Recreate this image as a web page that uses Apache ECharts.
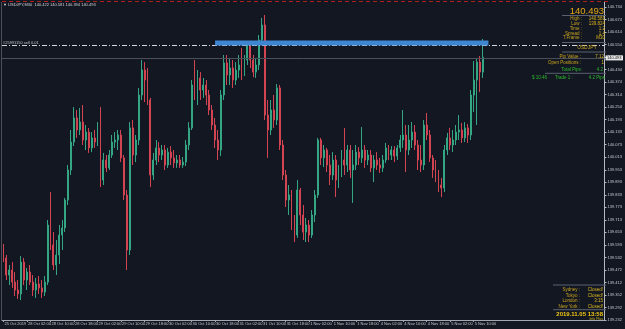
<!DOCTYPE html>
<html>
<head>
<meta charset="utf-8">
<script src="https://cdn.jsdelivr.net/npm/echarts@6/dist/echarts.min.js"></script>
<style>
  html, body { margin: 0; padding: 0; background: #131722; }
  #chart { width: 625px; height: 329px; }
</style>
</head>
<body>
<div id="chart"></div>
<script>
// USDJPY hourly bars, 25 Oct 18:00 -> 5 Nov 13:00 (one row = 8 bars)
var opens = [
  139.578, 139.530, 139.448, 139.472, 139.414, 139.376, 139.357, 139.510,
  139.424, 139.462, 139.414, 139.376, 139.405, 139.386, 139.366, 139.414,
  139.688, 139.592, 139.496, 139.544, 139.640, 139.674, 139.808, 139.952,
  140.086, 140.202, 140.144, 140.182, 140.096, 140.134, 140.058, 140.106,
  140.086, 140.154, 139.904, 140.000, 139.962, 140.024, 140.086, 140.096,
  140.120, 140.010, 139.832, 139.568, 140.154, 140.024, 140.096, 140.312,
  140.432, 140.384, 140.288, 139.928, 140.000, 140.058, 140.024, 140.048,
  139.976, 140.038, 140.010, 139.986, 140.000, 139.976, 139.990, 140.072,
  140.154, 140.360, 140.312, 140.394, 140.336, 140.360, 140.312, 140.240,
  140.168, 140.096, 140.048, 140.312, 140.466, 140.408, 140.442, 140.384,
  140.432, 140.456, 140.422, 140.480, 140.552, 140.480, 140.422, 140.456,
  140.576, 140.648, 140.216, 140.144, 140.240, 140.192, 140.346, 140.072,
  139.928, 139.808, 139.832, 139.688, 139.640, 139.856, 139.736, 139.654,
  139.688, 139.640, 139.736, 139.832, 140.096, 140.010, 140.048, 139.976,
  139.928, 140.000, 139.904, 139.952, 140.000, 139.976, 140.048, 139.952,
  139.976, 140.038, 140.010, 140.048, 140.000, 140.024, 139.962, 140.000,
  139.976, 139.962, 140.000, 140.058, 140.024, 140.048, 140.019, 140.058,
  140.096, 140.120, 140.048, 140.096, 140.134, 140.072, 140.000, 139.976,
  140.168, 140.120, 140.010, 139.952, 139.928, 139.880, 139.866, 140.048,
  140.106, 140.072, 140.096, 140.134, 140.144, 140.106, 140.154, 140.120,
  140.312, 140.384, 140.470, 140.422
];
var highs = [
  139.597, 139.544, 139.496, 139.510, 139.462, 139.424, 139.539, 139.530,
  139.482, 139.496, 139.448, 139.434, 139.443, 139.424, 139.443, 139.712,
  139.846, 139.654, 139.616, 139.688, 139.712, 139.818, 139.976, 140.144,
  140.254, 140.240, 140.250, 140.264, 140.168, 140.154, 140.134, 140.144,
  140.182, 140.254, 140.034, 140.024, 140.048, 140.120, 140.134, 140.144,
  140.144, 140.024, 139.856, 140.182, 140.192, 140.120, 140.346, 140.480,
  140.470, 140.442, 140.298, 140.034, 140.096, 140.086, 140.072, 140.072,
  140.058, 140.067, 140.048, 140.024, 140.024, 140.014, 140.096, 140.182,
  140.384, 140.480, 140.432, 140.422, 140.394, 140.384, 140.336, 140.264,
  140.202, 140.144, 140.336, 140.504, 140.504, 140.490, 140.480, 140.470,
  140.504, 140.538, 140.504, 140.566, 140.566, 140.504, 140.490, 140.600,
  140.682, 140.696, 140.288, 140.288, 140.312, 140.365, 140.360, 140.096,
  139.952, 139.880, 139.856, 139.736, 139.904, 139.866, 139.784, 139.722,
  139.712, 139.760, 139.856, 140.106, 140.106, 140.072, 140.058, 140.024,
  140.038, 140.024, 139.976, 140.048, 140.154, 140.072, 140.072, 140.048,
  140.072, 140.062, 140.158, 140.072, 140.048, 140.048, 140.024, 140.038,
  140.010, 140.024, 140.082, 140.072, 140.067, 140.067, 140.072, 140.120,
  140.240, 140.168, 140.168, 140.182, 140.168, 140.096, 140.072, 140.192,
  140.226, 140.144, 140.024, 140.000, 139.952, 139.914, 140.072, 140.130,
  140.154, 140.144, 140.168, 140.216, 140.178, 140.182, 140.173, 140.336,
  140.475, 140.490, 140.499, 140.581
];
var lows = [
  139.510, 139.424, 139.400, 139.386, 139.347, 139.333, 139.328, 139.400,
  139.376, 139.400, 139.347, 139.338, 139.357, 139.338, 139.347, 139.400,
  139.568, 139.472, 139.448, 139.501, 139.568, 139.654, 139.784, 139.928,
  140.067, 140.106, 140.120, 140.072, 140.048, 140.034, 140.038, 140.058,
  140.067, 139.870, 139.880, 139.942, 139.952, 140.010, 140.058, 140.048,
  139.990, 139.808, 139.472, 139.544, 139.976, 139.990, 140.072, 140.288,
  140.278, 140.264, 139.870, 139.904, 139.976, 139.990, 140.000, 139.952,
  139.962, 139.976, 139.962, 139.962, 139.962, 139.962, 139.971, 140.048,
  140.144, 140.288, 140.264, 140.288, 140.298, 140.264, 140.216, 140.144,
  140.058, 140.000, 140.019, 140.288, 140.360, 140.360, 140.346, 140.360,
  140.394, 140.384, 140.403, 140.456, 140.442, 140.398, 140.394, 140.432,
  140.552, 140.192, 140.010, 140.120, 140.154, 140.168, 140.048, 139.904,
  139.774, 139.736, 139.664, 139.606, 139.626, 139.688, 139.616, 139.606,
  139.606, 139.626, 139.702, 139.818, 139.976, 139.966, 139.942, 139.880,
  139.904, 139.822, 139.866, 139.918, 139.928, 139.942, 139.914, 139.794,
  139.952, 139.976, 139.986, 139.962, 139.976, 139.942, 139.894, 139.952,
  139.938, 139.942, 139.986, 140.000, 140.000, 139.990, 140.000, 140.038,
  140.058, 139.942, 140.024, 140.058, 140.048, 139.952, 139.942, 139.952,
  140.096, 139.990, 139.914, 139.894, 139.846, 139.822, 139.846, 140.024,
  140.048, 140.038, 140.072, 140.096, 140.082, 140.086, 140.082, 140.096,
  140.230, 140.168, 140.326, 140.394
];
var closes = [
  139.530, 139.448, 139.472, 139.414, 139.376, 139.357, 139.510, 139.424,
  139.462, 139.414, 139.376, 139.405, 139.386, 139.366, 139.414, 139.688,
  139.592, 139.496, 139.544, 139.640, 139.674, 139.808, 139.952, 140.086,
  140.202, 140.144, 140.182, 140.096, 140.134, 140.058, 140.106, 140.086,
  140.154, 139.904, 140.000, 139.962, 140.024, 140.086, 140.096, 140.120,
  140.010, 139.832, 139.568, 140.154, 140.024, 140.096, 140.312, 140.432,
  140.384, 140.288, 139.928, 140.000, 140.058, 140.024, 140.048, 139.976,
  140.038, 140.010, 139.986, 140.000, 139.976, 139.990, 140.072, 140.154,
  140.360, 140.312, 140.394, 140.336, 140.360, 140.312, 140.240, 140.168,
  140.096, 140.048, 140.312, 140.466, 140.408, 140.442, 140.384, 140.432,
  140.456, 140.422, 140.480, 140.552, 140.480, 140.422, 140.456, 140.576,
  140.648, 140.216, 140.144, 140.240, 140.192, 140.346, 140.072, 139.928,
  139.808, 139.832, 139.688, 139.640, 139.856, 139.736, 139.654, 139.688,
  139.640, 139.736, 139.832, 140.096, 140.010, 140.048, 139.976, 139.928,
  140.000, 139.904, 139.952, 140.000, 139.976, 140.048, 139.952, 139.976,
  140.038, 140.010, 140.048, 140.000, 140.024, 139.962, 140.000, 139.976,
  139.962, 140.000, 140.058, 140.024, 140.048, 140.019, 140.058, 140.096,
  140.120, 140.048, 140.096, 140.134, 140.072, 140.000, 139.976, 140.168,
  140.120, 140.010, 139.952, 139.928, 139.880, 139.866, 140.048, 140.106,
  140.072, 140.096, 140.134, 140.144, 140.106, 140.154, 140.120, 140.312,
  140.384, 140.470, 140.422, 140.493
];

var bidPrice = 140.493;
var tradeOpenPrice = 140.549;
var tradeLabel = '#25991150 sell 0.01';
var zoneTop = 140.574;
var zoneBottom = 140.550;
var zoneStartBar = 72;
var zoneEndBar = 165;

var infoRows = [['High :', '140.581'], ['Low :', '139.824'], ['Time :', '1:2'], ['Spread :', '1.4'], ['T.Frame :', 'M30']];
var accountRows = [['Pip Value :', '7.12'], ['Open Positions :', '1']];
var totalPips = '4.2';
var tradeRow = ['$ 10.46', 'Trade 1 :', '4.2 Pips'];
var sessionRows = [['Sydney :', 'Closed!'], ['Tokyo :', 'Closed!'], ['London :', '3:15'], ['New York :', 'Closed!']];
var serverTime = '2019.11.05 13:58';

// price axis step as the terminal lays it out (min is a whole number of steps)
var yStep = 0.0600915;
var yMin = 2317 * yStep;
var yMax = 140.7584;

// hourly time slots, weekends skipped, with empty room on the right
var months = ['Jan', 'Feb', 'Mar', 'Apr', 'May', 'Jun', 'Jul', 'Aug', 'Sep', 'Oct', 'Nov', 'Dec'];
var categories = [];
var t = Date.UTC(2019, 9, 25, 18);
while (categories.length < 205) {
  var d = new Date(t);
  var wd = d.getUTCDay();
  if (wd !== 0 && wd !== 6) {
    var hh = d.getUTCHours();
    categories.push(d.getUTCDate() + ' ' + months[d.getUTCMonth()] + ' ' + (hh < 10 ? '0' : '') + hh + ':00');
  }
  t += 3600000;
}
var lastBar = closes.length - 1;
function showTick(i) { return i % 8 === 0 && i <= lastBar; }

var candles = opens.map(function (o, i) { return [o, closes[i], lows[i], highs[i]]; });

var FONT = '"Liberation Sans", Arial, sans-serif';
var GOLD = '#caa41c';
var GOLD2 = '#dbb51e';
var GREEN = '#2cba2c';
var SEP = '#596070';

function txt(x, y, text, color, size, align, bold) {
  return {
    type: 'text', x: x, y: y, silent: true, z: 100,
    style: { text: text, fill: color, font: (bold ? 'bold ' : '') + size + 'px ' + FONT, align: align || 'left', verticalAlign: 'middle' }
  };
}
function rule(x1, x2, y, color, dash) {
  return {
    type: 'line', silent: true, z: 100,
    shape: { x1: x1, y1: y, x2: x2, y2: y },
    style: { stroke: color, lineWidth: 1, lineDash: dash || null }
  };
}

var graphics = [];
graphics.push(rule(2, 608, 1.5, '#b21e1e', [4, 3]));
graphics.push({ type: 'line', silent: true, shape: { x1: 1.5, y1: 2, x2: 1.5, y2: 320 }, style: { stroke: '#4a4f5a', lineWidth: 1 } });
graphics.push(txt(3, 5, '\u25BC ' + 'USDJPY,M30  ' + opens[lastBar].toFixed(3) + ' ' + highs[lastBar].toFixed(3) + ' ' +
  lows[lastBar].toFixed(3) + ' ' + closes[lastBar].toFixed(3), '#d0d2d6', 4));

// info panel, top right
graphics.push(txt(604, 11.5, bidPrice.toFixed(3), '#e3a812', 9.5, 'right'));
graphics.push(rule(562, 606, 15.5, SEP));
infoRows.forEach(function (r, k) {
  graphics.push(txt(582, 19 + k * 4.8, r[0], GOLD, 4.5, 'right'));
  graphics.push(txt(605, 19 + k * 4.8, r[1], GOLD2, 4.5, 'right'));
});
graphics.push(rule(562, 606, 42.5, SEP));
graphics.push(txt(587, 47.5, 'USDJPY', GOLD, 5, 'center'));
graphics.push(rule(562, 606, 52, SEP));
accountRows.forEach(function (r, k) {
  graphics.push(txt(581, 57 + k * 5.6, r[0], GOLD, 4.5, 'right'));
  graphics.push(txt(604, 57 + k * 5.6, r[1], GOLD2, 4.5, 'right'));
});
graphics.push(txt(582, 69.5, 'Total Pips:', GREEN, 4.5, 'right'));
graphics.push(txt(603, 69.5, totalPips, GREEN, 4.5, 'right'));
graphics.push(rule(545, 606, 73.3, SEP));
graphics.push(txt(532, 77.8, tradeRow[0], GREEN, 4.5, 'left'));
graphics.push(txt(555, 77.8, tradeRow[1], GREEN, 4.5, 'left'));
graphics.push(txt(605, 77.8, tradeRow[2], GREEN, 4.5, 'right'));

// session panel, bottom right
graphics.push(rule(553, 606, 285, SEP));
sessionRows.forEach(function (r, k) {
  graphics.push(txt(580, 290 + k * 5.6, r[0], GOLD, 4.5, 'right'));
  graphics.push(txt(603, 290 + k * 5.6, r[1], GOLD2, 4.5, 'right'));
});
graphics.push(rule(553, 606, 309.7, SEP));
graphics.push(txt(603, 314.3, serverTime, '#f0c814', 6, 'right', true));
graphics.push(txt(603, 319, 'Info Plus', '#c8b41a', 3.5, 'right'));

var chart = echarts.init(document.getElementById('chart'));
chart.setOption({
  backgroundColor: '#131722',
  animation: false,
  grid: { left: 2, right: 17, top: 2, bottom: 9 },
  xAxis: {
    type: 'category',
    data: categories,
    boundaryGap: true,
    axisLine: { lineStyle: { color: '#a4a8b0', width: 1 } },
    axisTick: { show: true, interval: showTick, alignWithLabel: true, length: 2, lineStyle: { color: '#a4a8b0' } },
    axisLabel: {
      interval: showTick,
      align: 'left',
      margin: 2,
      padding: [0, 0, 0, 1],
      color: '#c8cace',
      fontSize: 4,
      fontFamily: 'Liberation Sans',
      formatter: function (val, idx) {
        if (idx === 0) { return val.split(' ').slice(0, 2).join(' ') + ' 2019'; }
        return val;
      }
    },
    splitLine: { show: false }
  },
  yAxis: {
    type: 'value',
    position: 'right',
    min: yMin,
    max: yMax,
    interval: yStep,
    scale: true,
    axisLine: { show: true, lineStyle: { color: '#b4b8c0', width: 1 } },
    axisTick: { show: true, length: 2, lineStyle: { color: '#b4b8c0' } },
    axisLabel: {
      margin: 3,
      showMaxLabel: false,
      color: '#c8cace',
      fontSize: 4,
      fontFamily: 'Liberation Sans',
      formatter: function (v) { return v.toFixed(3); }
    },
    splitLine: { show: false }
  },
  graphic: graphics,
  series: [
    {
      type: 'candlestick',
      data: candles,
      barWidth: 1.4,
      itemStyle: {
        color: '#34a684',
        color0: '#d24452',
        borderColor: '#34a684',
        borderColor0: '#d24452',
        borderWidth: 1
      }
    },
    {
      type: 'line',
      data: [],
      z: 5,
      markArea: {
        silent: true,
        z: 6,
        itemStyle: { color: '#3f86d2', opacity: 1 },
        data: [[
          { xAxis: categories[zoneStartBar], yAxis: zoneTop },
          { xAxis: categories[zoneEndBar], yAxis: zoneBottom }
        ]]
      },
      markLine: {
        silent: true,
        symbol: ['none', 'none'],
        data: [
          {
            yAxis: tradeOpenPrice,
            lineStyle: { color: '#d6d8dc', width: 1, type: [5, 2, 1, 2] },
            label: { show: true, position: 'insideStartTop', distance: 1, formatter: tradeLabel, color: '#c0c3c8', fontSize: 4, fontFamily: 'Liberation Sans' }
          },
          {
            yAxis: bidPrice,
            lineStyle: { color: '#4a4f5a', width: 1, type: 'solid' },
            label: {
              show: true, position: 'end', distance: 1,
              formatter: bidPrice.toFixed(3),
              color: '#111111', backgroundColor: '#e8e8e8',
              padding: [0.5, 1.5], fontSize: 4, fontFamily: 'Liberation Sans'
            }
          }
        ]
      }
    }
  ]
});
</script>
</body>
</html>
